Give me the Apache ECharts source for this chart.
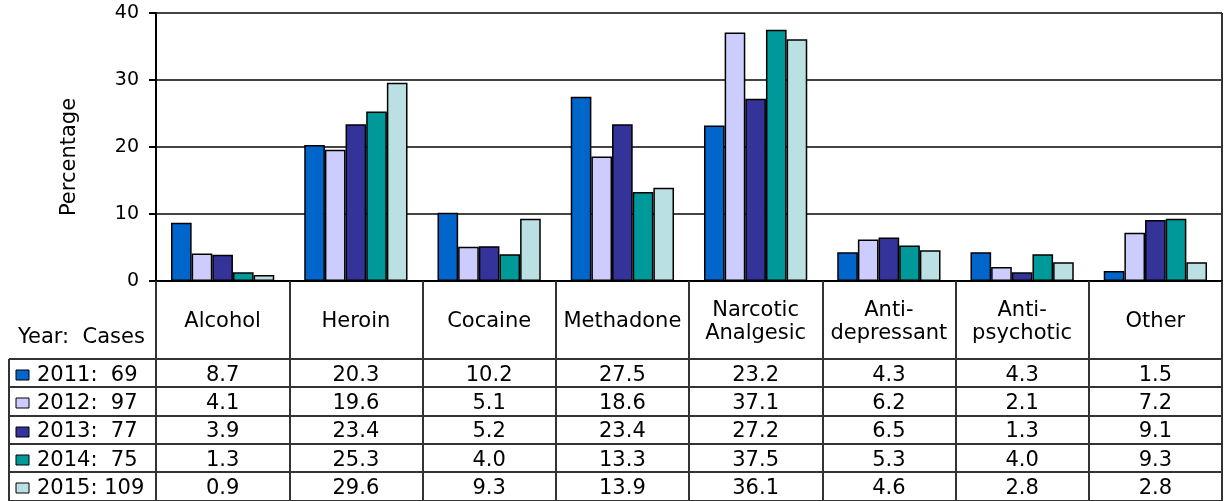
<!DOCTYPE html>
<html>
<head>
<meta charset="utf-8">
<script src="https://cdn.jsdelivr.net/npm/echarts@6/dist/echarts.min.js"></script>
<style>
  html, body { margin: 0; padding: 0; background: #fff; }
  #chart { width: 1228px; height: 501px; }
</style>
</head>
<body>
<div id="chart"></div>
<script>
// Drug categories (x axis) and yearly percentages per category
const categories = ['Alcohol', 'Heroin', 'Cocaine', 'Methadone', 'Narcotic\nAnalgesic', 'Anti-\ndepressant', 'Anti-\npsychotic', 'Other'];
const years = ['2011', '2012', '2013', '2014', '2015'];
const cases = [69, 97, 77, 75, 109];
const pct2011 = [8.7, 20.3, 10.2, 27.5, 23.2, 4.3, 4.3, 1.5];
const pct2012 = [4.1, 19.6, 5.1, 18.6, 37.1, 6.2, 2.1, 7.2];
const pct2013 = [3.9, 23.4, 5.2, 23.4, 27.2, 6.5, 1.3, 9.1];
const pct2014 = [1.3, 25.3, 4.0, 13.3, 37.5, 5.3, 4.0, 9.3];
const pct2015 = [0.9, 29.6, 9.3, 13.9, 36.1, 4.6, 2.8, 2.8];
const yTicks = [0, 10, 20, 30, 40];

const seriesValues = [pct2011, pct2012, pct2013, pct2014, pct2015];
const palette = ['#0066CC', '#CCCCFF', '#333399', '#009999', '#BBE0E3'];

const FONT = 'DejaVu Sans';
const LINE = '#333';

const chart = echarts.init(document.getElementById('chart'), null, { renderer: 'canvas' });

const grid = { left: 156, right: 6, top: 13, bottom: 220 };
const headerH = 78;   // category-name row of the data table
const rowH = 28.3;    // one row per year

chart.setOption({
  animation: false,
  backgroundColor: '#fff',
  grid: grid,
  xAxis: {
    type: 'category',
    data: categories,
    boundaryGap: true,
    axisLine: { show: true, lineStyle: { color: '#000', width: 2 } },
    axisTick: { show: true, interval: 0, length: 220, lineStyle: { color: LINE, width: 2 } },
    axisLabel: {
      interval: 0, margin: 41, verticalAlign: 'middle',
      fontFamily: FONT, fontSize: 21, color: '#000', lineHeight: 23
    },
    splitLine: { show: false }
  },
  yAxis: {
    type: 'value',
    min: yTicks[0], max: yTicks[yTicks.length - 1], interval: 10,
    name: 'Percentage', nameLocation: 'middle', nameGap: 76, nameRotate: 90,
    nameTextStyle: { fontFamily: FONT, fontSize: 21, color: '#000', padding: [0, 20, 0, 0] },
    axisLine: { show: true, lineStyle: { color: '#000', width: 2 } },
    axisTick: { show: true, length: 7, lineStyle: { color: '#000', width: 2 } },
    axisLabel: { margin: 17, fontFamily: FONT, fontSize: 19, color: '#000' },
    splitLine: { show: true, lineStyle: { color: '#444', width: 2 } }
  },
  series: seriesValues.map((vals, i) => ({
    name: years[i],
    type: 'bar',
    data: vals,
    barGap: '0%',
    barCategoryGap: '22.5%',
    itemStyle: { color: palette[i], borderColor: '#000', borderWidth: 1.5 }
  }))
});

// Data table drawn under the plot, aligned to the category axis
function buildTable() {
  const x0 = 9;
  const x1 = chart.getWidth() - grid.right;
  const axisY = chart.getHeight() - grid.bottom;
  const rowsTop = axisY + headerH;
  const tableBottom = Math.round(rowsTop + years.length * rowH);
  const font = '21px "' + FONT + '"';
  const els = [];

  // header caption for the legend column
  els.push({
    type: 'text', x: 18, y: axisY + 57,
    style: { text: 'Year:  Cases', font: font, fill: '#000', textVerticalAlign: 'middle' }
  });

  // horizontal rules
  for (let r = 0; r <= years.length; r++) {
    const y = Math.round(rowsTop + r * rowH);
    els.push({ type: 'line', shape: { x1: x0, y1: y, x2: x1, y2: y }, style: { stroke: LINE, lineWidth: 2 } });
  }
  // outer edges of the table and plot
  els.push({ type: 'line', shape: { x1: x0, y1: rowsTop, x2: x0, y2: tableBottom }, style: { stroke: LINE, lineWidth: 2 } });
  els.push({ type: 'line', shape: { x1: grid.left, y1: axisY, x2: grid.left, y2: tableBottom }, style: { stroke: LINE, lineWidth: 2 } });
  els.push({ type: 'line', shape: { x1: x1, y1: grid.top, x2: x1, y2: tableBottom }, style: { stroke: LINE, lineWidth: 2 } });

  years.forEach((yr, s) => {
    const cy = rowsTop + (s + 0.5) * rowH + 2;
    // legend key
    els.push({
      type: 'rect', shape: { x: 16, y: Math.round(cy - 5), width: 13, height: 10 },
      style: { fill: palette[s], stroke: '#000', lineWidth: 1 }
    });
    const gap = cases[s] < 100 ? '  ' : ' ';
    els.push({
      type: 'text', x: 37, y: cy,
      style: { text: yr + ':' + gap + cases[s], font: font, fill: '#000', textVerticalAlign: 'middle' }
    });
    seriesValues[s].forEach((v, c) => {
      const cx = chart.convertToPixel({ xAxisIndex: 0 }, c);
      els.push({
        type: 'text', x: cx, y: cy,
        style: { text: v.toFixed(1), font: font, fill: '#000', textAlign: 'center', textVerticalAlign: 'middle' }
      });
    });
  });

  chart.setOption({ graphic: [{ type: 'group', silent: true, children: els }] });
}
buildTable();
</script>
</body>
</html>
